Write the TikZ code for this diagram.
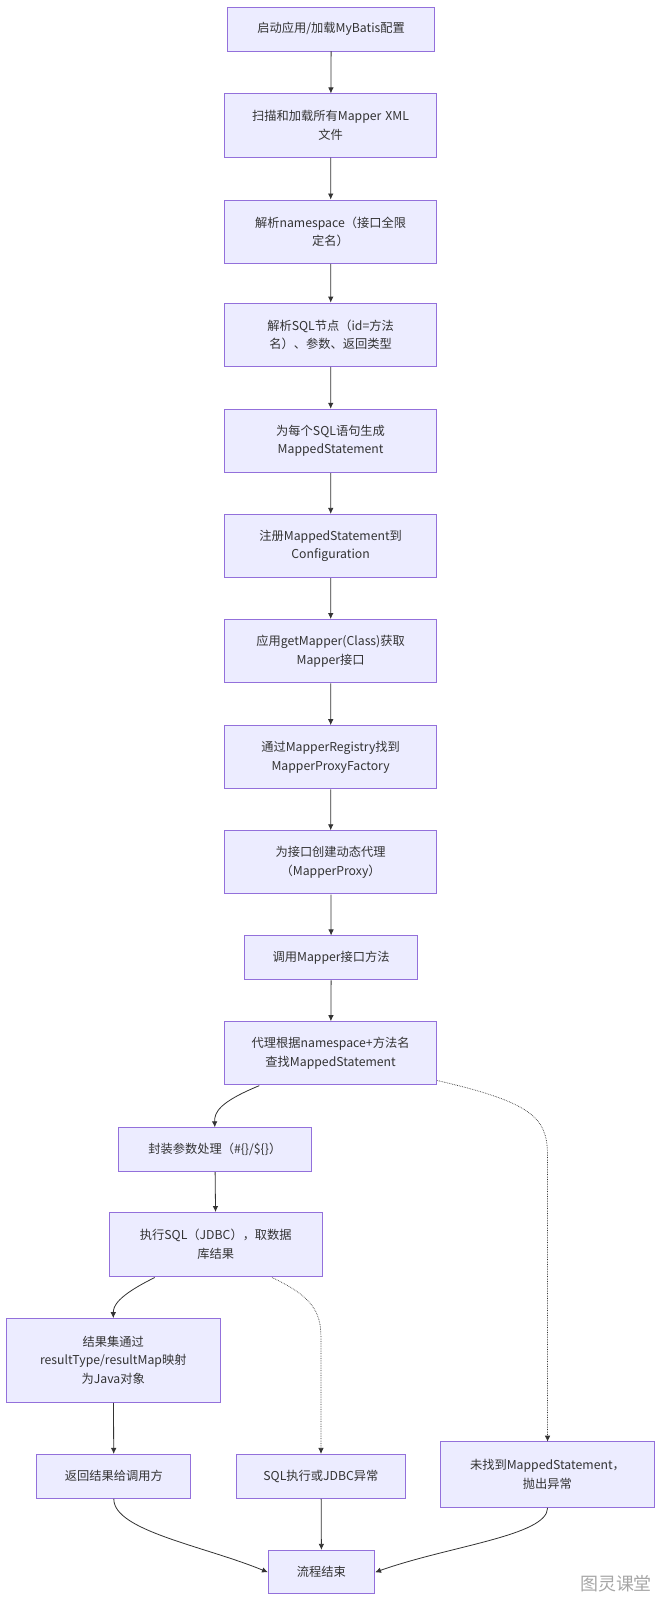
\documentclass[tikz,border=0pt]{standalone}
\usepackage{fontspec}
\setmainfont{Noto Sans CJK SC}
\usepackage{tikz}
\usetikzlibrary{arrows.meta,positioning}
\usepackage{xcolor}
\definecolor{boxfill}{HTML}{ECECFF}
\definecolor{boxline}{HTML}{9370DB}
\definecolor{edge}{HTML}{333333}

\begin{document}
\begin{tikzpicture}[x=1pt,y=-1pt,scale=1.0204,every node/.style={transform shape},
  box/.style 2 args={draw=boxline,fill=boxfill,line width=0.9pt,
    text=edge,font=\fontsize{12}{18}\selectfont,align=center,
    inner sep=0pt,text width=#1,minimum height=#2},
  flow/.style={draw=edge,line width=0.8pt,-{Latex[length=6pt,width=5.5pt]}},
  fail/.style={draw=edge,line width=0.7pt,densely dotted,-{Latex[length=6pt,width=5.5pt]}}]
\useasboundingbox (0,0) rectangle (647.8,1568);
% main column
\node (start)  at (324.5,28.5) [box={203pt}{43pt}] {启动应用/加载MyBatis配置};
\node (scan)   at (324,123)    [box={208pt}{62pt}] {扫描和加载所有Mapper XML\\文件};
\node (ns)     at (324,227)    [box={208pt}{62pt}] {解析namespace（接口全限\\定名）};
\node (sql)    at (324,328)    [box={208pt}{62pt}] {解析SQL节点（id=方法\\名）、参数、返回类型};
\node (ms)     at (324,432)    [box={208pt}{62pt}] {为每个SQL语句生成\\MappedStatement};
\node (reg)    at (324,535)    [box={208pt}{62pt}] {注册MappedStatement到\\Configuration};
\node (get)    at (324,638)    [box={208pt}{62pt}] {应用getMapper(Class)获取\\Mapper接口};
\node (fac)    at (324,742)    [box={208pt}{62pt}] {通过MapperRegistry找到\\MapperProxyFactory};
\node (proxy)  at (324,845)    [box={208pt}{62pt}] {为接口创建动态代理\\（MapperProxy）};
\node (call)   at (324.5,938.5) [box={169pt}{43pt}] {调用Mapper接口方法};
\node (find)   at (324,1032)   [box={208pt}{62pt}] {代理根据namespace+方法名\\查找MappedStatement};
% branches
\node (param)  at (210.5,1126.5) [box={189pt}{43pt}] {封装参数处理（\#\{\}/\$\{\}）};
\node (exec)   at (211.5,1219.5) [box={209pt}{63pt}] {执行SQL（JDBC），取数据\\库结果};
\node (map)    at (111,1333)   [box={210pt}{82pt}] {结果集通过\\resultType/resultMap映射\\为Java对象};
\node (ret)    at (111.5,1446.5) [box={151pt}{43pt}] {返回结果给调用方};
\node (jdbc)   at (314.5,1446.5) [box={166pt}{43pt}] {SQL执行或JDBC异常};
\node (miss)   at (536.5,1445) [box={209pt}{64pt}] {未找到MappedStatement，\\抛出异常};
\node (end)    at (315,1540.5) [box={104pt}{43pt}] {流程结束};
\node (mark) at (603.7,1552) [text=gray!70,inner sep=0pt,font=\fontsize{17.6}{17.6}\selectfont] {图灵课堂};
% edges
\draw [flow] (start) -- (scan);
\draw [flow] (scan) -- (ns);
\draw [flow] (ns) -- (sql);
\draw [flow] (sql) -- (ms);
\draw [flow] (ms) -- (reg);
\draw [flow] (reg) -- (get);
\draw [flow] (get) -- (fac);
\draw [flow] (fac) -- (proxy);
\draw [flow] (proxy) -- (call);
\draw [flow] (call) -- (find);
\draw [flow] (find.south) ++(-70,0) coordinate (f1) (f1) .. controls (215,1080) and (210,1090) .. (param.north);
\draw [fail] (find.south east) ++(0,-5) coordinate (f2) (f2) .. controls (520,1080) and (536,1095) .. (536.5,1130) -- (miss.north);
\draw [flow] (param) -- (exec);
\draw [flow] (exec.south) ++(-60,0) coordinate (e1) (e1) .. controls (115,1270) and (111,1280) .. (map.north);
\draw [fail] (exec.south) ++(55,0) coordinate (e2) (e2) .. controls (305,1270) and (314.5,1285) .. (314.5,1310) -- (jdbc.north);
\draw [flow] (map) -- (ret);
\draw [flow] (jdbc) -- (end);
\draw [flow] (ret.south) .. controls (111,1500) and (200,1515) .. (end.west);
\draw [flow] (miss.south) .. controls (536.5,1505) and (440,1515) .. (end.east);
\end{tikzpicture}
\end{document}
